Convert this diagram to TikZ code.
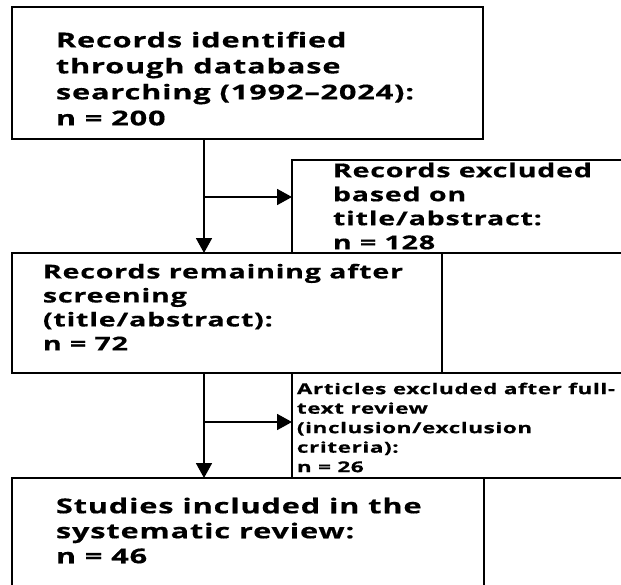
\documentclass[tikz,border=0pt]{standalone}
\usepackage{fontspec}
\newfontfamily\flowfont{Open Sans}[FakeStretch=1.5,LetterSpace=4,FakeBold=0.5]
\usetikzlibrary{positioning}
\usetikzlibrary{arrows.meta}

\begin{document}
\begin{tikzpicture}[x=1pt,y=-1pt,>={Triangle[length=15pt,width=16pt]},line width=1.8pt,
                    box/.style={rectangle,draw,anchor=north west,inner sep=0pt,outer sep=0pt},
                    main text/.style={anchor=north west,inner sep=0pt,align=left,
                      font=\flowfont\bfseries\fontsize{20.5}{26}\selectfont},
                    mid text/.style={anchor=north west,inner sep=0pt,align=left,
                      font=\flowfont\bfseries\fontsize{19.1}{24}\selectfont},
                    small text/.style={anchor=north west,inner sep=0pt,align=left,
                      font=\flowfont\bfseries\fontsize{15}{19.5}\selectfont}]
      \useasboundingbox (0,0) rectangle (621,584);
      \clip (0,0) rectangle (621,584);

      % boxes
      \node[box,minimum width=471pt,minimum height=132pt] (ident) at (12,7) {};
      \node[box,minimum width=408pt,minimum height=93pt] (screenout) at (292,160) {};
      \node[box,minimum width=430pt,minimum height=120pt] (remain) at (12,253) {};
      \node[box,minimum width=258pt,minimum height=120pt] (remainside) at (442,253) {};
      \node[box,minimum width=408pt,minimum height=105pt] (fullout) at (292,373) {};
      \node[box,minimum width=472pt,minimum height=142pt] (incl) at (12,478) {};
      \node[box,minimum width=216pt,minimum height=142pt] (inclside) at (484,478) {};

      % texts
      \node[main text,below right=23.8pt and 43pt of ident.north west] (identtxt)
        {Records identified\\through database\\searching (1992–2024):\\n = 200};
      \node[mid text,below right=1.8pt and 40pt of screenout.north west] (screenouttxt)
        {Records excluded\\based on\\title/abstract:\\n = 128};
      \node[mid text,below right=9.9pt and 30pt of remain.north west] (remaintxt)
        {Records remaining after\\screening\\(title/abstract):\\n = 72};
      \node[small text,below right=8.8pt and 4pt of fullout.north west] (fullouttxt)
        {Articles excluded after full-\\text review\\(inclusion/exclusion\\criteria):\\n = 26};
      \node[main text,font=\flowfont\bfseries\fontsize{20.5}{25}\selectfont,
            below right=18.8pt and 43pt of incl.north west] (incltxt)
        {Studies included in the\\systematic review:\\n = 46};

      % arrows
      \coordinate (trunk) at (204,0);
      \coordinate (fork1) at (204,197);
      \coordinate (fork2) at (204,422);
      \draw[->] (ident.south -| trunk) -- (remain.north -| trunk);
      \draw[->] (fork1) -- (fork1 -| screenout.west);
      \draw[->] (remain.south -| trunk) -- (incl.north -| trunk);
      \draw[->] (fork2) -- (fork2 -| fullout.west);
\end{tikzpicture}
\end{document}
